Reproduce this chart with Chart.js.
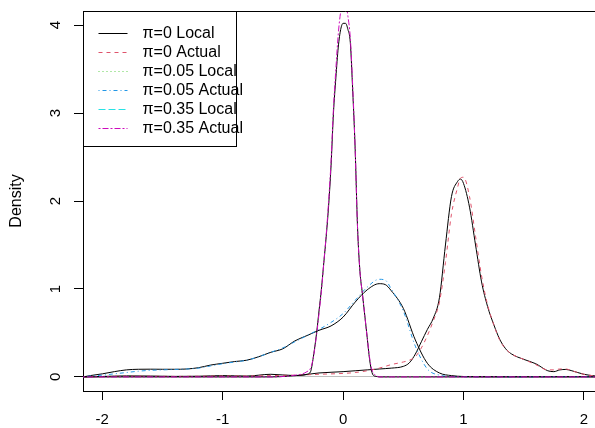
<!DOCTYPE html>
<html>
<head>
<meta charset="utf-8">
<script src="https://cdn.jsdelivr.net/npm/chart.js@4/dist/chart.umd.min.js"></script>
<style>
  html, body { margin: 0; padding: 0; background: #fff; overflow: hidden; }
  #wrap { width: 608px; height: 428px; }
</style>
</head>
<body>
<div id="wrap"><canvas id="densityChart" width="608" height="428"></canvas></div>
<script>
// density curves (x grid + heights)
const xA = [-2.16, -2.0, -1.8, -1.6, -1.4, -1.2, -1.0, -0.8, -0.6, -0.4, -0.2, 0, 0.1, 0.2, 0.3, 0.4, 0.5, 0.55, 0.6, 0.65, 0.7, 0.75, 0.8, 0.85, 0.9, 0.95, 0.975, 1.0, 1.05, 1.1, 1.15, 1.2, 1.25, 1.3, 1.35, 1.4, 1.5, 1.6, 1.7, 1.75, 1.8, 1.85, 1.9, 2.0, 2.1, 2.2];
const local0 = [0, 0.005, 0.012, 0.01, 0.006, 0.008, 0.015, 0.01, 0.03, 0.015, 0.045, 0.06, 0.07, 0.08, 0.09, 0.1, 0.12, 0.16, 0.26, 0.4, 0.54, 0.67, 0.9, 1.5, 2.05, 2.22, 2.25, 2.2, 1.93, 1.5, 1.08, 0.8, 0.6, 0.43, 0.32, 0.26, 0.2, 0.15, 0.07, 0.06, 0.08, 0.085, 0.07, 0.03, 0.01, 0];
const actual0 = [0, 0.004, 0.008, 0.008, 0.006, 0.008, 0.01, 0.01, 0.015, 0.02, 0.03, 0.04, 0.05, 0.07, 0.1, 0.14, 0.17, 0.19, 0.23, 0.33, 0.47, 0.64, 0.85, 1.3, 1.85, 2.15, 2.26, 2.27, 2.05, 1.6, 1.15, 0.82, 0.6, 0.42, 0.32, 0.26, 0.2, 0.14, 0.08, 0.08, 0.09, 0.09, 0.07, 0.03, 0.01, 0];

const xB = [-2.16, -2.1, -2.0, -1.9, -1.8, -1.7, -1.6, -1.5, -1.4, -1.3, -1.2, -1.1, -1.0, -0.9, -0.8, -0.7, -0.6, -0.5, -0.4, -0.3, -0.2, -0.1, 0, 0.1, 0.2, 0.3, 0.35, 0.4, 0.5, 0.6, 0.7, 0.8, 0.9, 1.0, 1.2, 1.5, 2.0, 2.2];
const local05 = [0, 0.015, 0.035, 0.06, 0.08, 0.087, 0.088, 0.087, 0.087, 0.09, 0.105, 0.135, 0.155, 0.175, 0.19, 0.23, 0.28, 0.32, 0.41, 0.47, 0.53, 0.58, 0.68, 0.85, 0.99, 1.06, 1.05, 0.98, 0.78, 0.42, 0.155, 0.045, 0.015, 0.005, 0.002, 0.002, 0.003, 0];
const actual05 = [0, 0.01, 0.02, 0.035, 0.05, 0.065, 0.075, 0.08, 0.085, 0.09, 0.1, 0.125, 0.15, 0.17, 0.19, 0.23, 0.28, 0.33, 0.4, 0.47, 0.54, 0.62, 0.72, 0.87, 1.02, 1.11, 1.1, 1.0, 0.75, 0.35, 0.09, 0.02, 0.005, 0.002, 0, 0, 0.003, 0];

const xC = [-2.16, -1.0, -0.6, -0.5, -0.45, -0.4, -0.35, -0.3, -0.27, -0.25, -0.22, -0.2, -0.18, -0.16, -0.14, -0.12, -0.1, -0.08, -0.06, -0.04, -0.02, 0, 0.02, 0.04, 0.06, 0.08, 0.1, 0.12, 0.14, 0.16, 0.18, 0.2, 0.22, 0.24, 0.26, 0.28, 0.3, 0.4, 1.0, 2.2];
const local35 = [0, 0, 0, 0.005, 0.01, 0.015, 0.02, 0.03, 0.06, 0.2, 0.5, 0.75, 1.0, 1.3, 1.6, 1.95, 2.4, 3.0, 3.4, 3.75, 3.95, 4.02, 4.02, 3.95, 3.8, 3.25, 2.6, 1.7, 1.2, 0.95, 0.7, 0.45, 0.2, 0.05, 0.01, 0.005, 0, 0, 0, 0];
const actual35 = [0, 0, 0, 0.005, 0.01, 0.02, 0.03, 0.06, 0.1, 0.2, 0.48, 0.72, 0.98, 1.3, 1.62, 2.0, 2.45, 3.05, 3.5, 3.9, 4.15, 4.25, 4.25, 4.1, 3.85, 3.3, 2.6, 1.7, 1.2, 0.95, 0.7, 0.45, 0.22, 0.08, 0.03, 0.01, 0, 0, 0, 0];

const xTicks = [-2, -1, 0, 1, 2];
const yTicks = [0, 1, 2, 3, 4];
const seriesLabels = ['π=0 Local', 'π=0 Actual', 'π=0.05 Local', 'π=0.05 Actual', 'π=0.35 Local', 'π=0.35 Actual'];

// how the curves actually look (the local ones are all drawn black)
const lineColors = ['#000000', '#DF536B', '#000000', '#2297E6', '#000000', '#CD0BBC'];
const lineDashes = [[], [4, 4], [], [1, 3, 4, 3], [], [2, 2, 6, 2]];
// legend keys as printed in the figure
const keyColors = ['#000000', '#DF536B', '#61D04F', '#2297E6', '#28E2E5', '#CD0BBC'];
const keyDashes = [[], [4, 4], [1, 3], [1, 3, 4, 3], [7, 3], [2, 2, 6, 2]];

function pts(xs, ys) {
  return xs.map((x, i) => ({ x: x, y: ys[i] }));
}
const seriesData = [pts(xA, local0), pts(xA, actual0), pts(xB, local05), pts(xB, actual05), pts(xC, local35), pts(xC, actual35)];

// box top edge + legend inside top-left corner
const boxAndKey = {
  id: 'boxAndKey',
  afterDraw(chart) {
    const ctx = chart.ctx;
    const a = chart.chartArea;
    const L = Math.round(a.left) + 0.5, T = Math.round(a.top) + 0.5;
    ctx.save();
    ctx.strokeStyle = '#000';
    ctx.lineWidth = 1;
    ctx.beginPath();
    ctx.moveTo(L, T);
    ctx.lineTo(a.right, T);
    ctx.stroke();

    ctx.fillStyle = '#fff';
    ctx.fillRect(L, T, 153, 135);
    ctx.strokeRect(L, T, 153, 135);

    ctx.font = '16px "Liberation Sans", Arial, sans-serif';
    ctx.textBaseline = 'middle';
    seriesLabels.forEach((lab, i) => {
      const y = Math.round(a.top + 22 + i * 19) + 0.5;
      ctx.strokeStyle = keyColors[i];
      ctx.setLineDash(keyDashes[i]);
      ctx.beginPath();
      ctx.moveTo(L + 15, y);
      ctx.lineTo(L + 44, y);
      ctx.stroke();
      ctx.setLineDash([]);
      ctx.fillStyle = '#000';
      ctx.fillText(lab, L + 59, y);
    });
    ctx.restore();
  }
};

Chart.defaults.font.family = '"Liberation Sans", Arial, sans-serif';
Chart.defaults.color = '#000';

new Chart(document.getElementById('densityChart').getContext('2d'), {
  type: 'line',
  data: {
    datasets: seriesData.map((d, i) => ({
      label: seriesLabels[i],
      data: d,
      borderColor: lineColors[i],
      borderDash: lineDashes[i],
      borderWidth: 1,
      pointRadius: 0,
      fill: false,
      cubicInterpolationMode: 'monotone',
      order: -i
    }))
  },
  options: {
    responsive: false,
    animation: false,
    devicePixelRatio: 1,
    layout: { padding: { top: 11, left: 0, right: 0, bottom: 0 } },
    plugins: {
      legend: { display: false },
      tooltip: { enabled: false }
    },
    scales: {
      x: {
        type: 'linear',
        min: -2.16,
        max: 2.2,
        afterBuildTicks: s => { s.ticks = xTicks.map(v => ({ value: v })); },
        afterFit: s => { s.height = 37; s.paddingLeft = 0; s.paddingRight = 0; },
        ticks: { padding: 11, font: { size: 15 }, maxRotation: 0, autoSkip: false },
        grid: { drawOnChartArea: false, tickLength: 9, tickColor: '#000' },
        border: { display: true, color: '#000' }
      },
      y: {
        type: 'linear',
        min: -0.16,
        max: 4.16,
        afterBuildTicks: s => { s.ticks = yTicks.map(v => ({ value: v })); },
        afterFit: s => { s.width = 83; s.paddingTop = 0; s.paddingBottom = 0; },
        ticks: { minRotation: 90, maxRotation: 90, crossAlign: 'center', padding: 14, font: { size: 15 }, autoSkip: false },
        grid: {
          color: c => (c.tick && c.tick.value === 0) ? '#BEBEBE' : 'rgba(0,0,0,0)',
          tickColor: '#000',
          tickLength: 9
        },
        border: { display: true, color: '#000' },
        title: { display: true, text: 'Density', font: { size: 16 }, padding: { top: 7 } }
      }
    }
  },
  plugins: [boxAndKey]
});
</script>
</body>
</html>
